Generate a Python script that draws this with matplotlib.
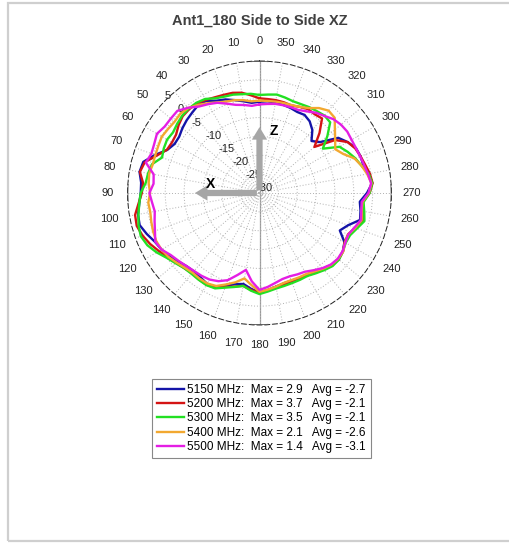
import numpy as np
import matplotlib
matplotlib.use("Agg")
import matplotlib.pyplot as plt
from matplotlib.patches import Rectangle

plt.rcParams['font.family'] = ['Liberation Sans', 'DejaVu Sans']

# pattern angles (deg), 5 deg steps
angles = np.arange(0, 360, 5)

freqs = ["5150 MHz", "5200 MHz", "5300 MHz", "5400 MHz", "5500 MHz"]
max_vals = [2.9, 3.7, 3.5, 2.1, 1.4]
avg_vals = [-2.7, -2.1, -2.1, -2.6, -3.1]
colors = ["#1414a8", "#d41414", "#22e022", "#f2a830", "#e41ee4"]

gain_5150 = [-5.8, -6.0, -5.3, -4.5, -3.6, -3.0, -1.8, -1.6, -2.2, -2.7, -3.3, -4.0,
             -4.0, -3.0, -0.5, 1.9, 2.3, 1.5, 1.5, 2.0, 2.7, 2.9, 1.8, 0.6,
             0.0, -0.8, -1.8, -2.6, -2.9, -2.7, -2.2, -2.5, -3.8, -5.0, -5.5, -4.5,
             -3.6, -4.2, -4.8, -5.2, -5.3, -5.0, -4.8, -4.4, -3.8, -3.0, -2.6, -3.0,
             -4.0, -6.5, -5.0, -2.4, -2.8, -3.3, -1.5, 0.0, -0.5, -1.5, -1.5, -1.8,
             -3.0, -4.5, -9.0, -10.5, -8.2, -6.8, -6.1, -6.3, -6.0, -5.8, -5.6, -5.6]
gain_5200 = [-4.9, -4.0, -3.0, -2.5, -2.3, -2.0, -1.5, -1.0, -1.0, -1.2, -2.0, -3.0,
             -3.2, -2.9, -1.0, 1.5, 2.2, 1.0, 1.2, 2.2, 3.5, 3.7, 3.0, 2.0,
             0.8, -0.3, -1.2, -1.8, -2.2, -2.0, -1.9, -2.3, -3.5, -4.3, -5.0, -4.2,
             -3.5, -4.0, -4.5, -4.9, -5.0, -4.9, -4.8, -4.2, -3.5, -2.8, -2.6, -3.0,
             -3.9, -4.1, -3.0, -1.5, -2.0, -2.5, -0.8, 0.1, -0.3, -1.0, -1.5, -2.0,
             -3.0, -5.5, -11.0, -7.5, -4.2, -4.5, -4.3, -4.8, -5.3, -5.1, -5.0, -5.0]
gain_5300 = [-4.0, -3.6, -3.4, -3.0, -2.8, -2.3, -1.2, -0.8, -0.8, -1.0, -1.5, -2.0,
             -1.7, -2.0, -2.5, -0.5, 0.0, 0.3, 1.5, 2.0, 2.6, 3.2, 3.5, 2.8,
             1.5, 0.0, -1.0, -1.8, -2.0, -1.9, -1.8, -2.1, -3.3, -4.2, -5.0, -4.0,
             -3.2, -3.8, -4.3, -4.5, -4.6, -4.6, -4.6, -4.0, -3.3, -2.6, -2.5, -3.0,
             -3.6, -3.5, -2.5, -1.2, -1.8, -2.3, -0.8, 0.0, -0.6, -2.0, -3.0, -4.2,
             -5.5, -9.5, -6.5, -3.5, -3.2, -3.5, -3.7, -4.0, -4.1, -3.8, -3.5, -3.8]
gain_5400 = [-5.5, -5.6, -5.0, -4.5, -4.2, -3.5, -2.5, -1.5, -0.6, -0.3, -0.6, -0.4,
             -0.1, -0.4, -0.6, -0.7, -0.3, -0.5, -1.0, -0.4, -0.6, -0.3, 0.0, 0.2,
             0.0, -0.5, -1.3, -2.0, -2.4, -2.3, -2.3, -2.8, -4.2, -5.5, -7.0, -5.5,
             -3.8, -4.3, -4.8, -5.3, -5.4, -5.3, -5.2, -4.6, -3.8, -3.1, -2.8, -2.9,
             -3.8, -4.0, -3.0, -2.0, -2.5, -2.6, -1.0, -0.2, -1.0, -2.0, -3.2, -5.5,
             -6.8, -5.5, -3.9, -1.8, -1.5, -2.5, -4.0, -4.8, -5.2, -5.3, -5.4, -5.5]
gain_5500 = [-6.5, -6.8, -6.3, -5.8, -4.8, -3.6, -2.8, -2.0, -0.5, 0.8, 0.7, 0.7,
             1.4, 0.8, 0.5, 1.2, -1.5, -1.8, -0.8, -1.4, -1.8, -1.2, -0.5, 0.5,
             0.0, -1.3, -2.0, -2.6, -3.0, -3.2, -3.5, -4.2, -5.4, -7.5, -9.3, -6.5,
             -4.3, -5.0, -5.8, -6.4, -6.5, -6.2, -5.9, -5.0, -4.0, -3.2, -2.9, -3.1,
             -3.7, -4.0, -3.2, -2.2, -2.6, -2.8, -1.1, -0.3, -0.8, -1.3, -1.6, -1.8,
             -1.8, -1.6, -1.8, -2.3, -3.3, -4.0, -5.0, -5.7, -5.8, -5.9, -6.0, -6.3]
series = [gain_5150, gain_5200, gain_5300, gain_5400, gain_5500]

r_ticks = [-25, -20, -15, -10, -5, 0, 5]
r_min, r_max = -30, 5

W, H = 510, 543
fig = plt.figure(figsize=(W / 100, H / 100), dpi=100)

# outer light frame (right side runs off the image)
fig.patches.append(Rectangle((8 / W, 2 / H), 1.2, 1 - 5 / H, transform=fig.transFigure,
                             fill=False, edgecolor="#cfcfcf", lw=1.6))

cx, cy, R = 259.5, 193, 132
ax = fig.add_axes([(cx - R) / W, 1 - (cy + R) / H, 2 * R / W, 2 * R / H], projection="polar")
ax.set_theta_zero_location("N")
ax.set_theta_direction(1)
ax.set_rlim(r_min, r_max)

ax.set_thetagrids(np.arange(0, 360, 10), [str(a) for a in range(0, 360, 10)],
                  fontsize=8, color="#222222")
ax.tick_params(axis="x", pad=4)
ax.set_rgrids(r_ticks, [str(v) for v in r_ticks], angle=46, fontsize=8, color="#222222")
ax.grid(True, color="#b0b0b0", linestyle=(0, (1, 2)), lw=0.7)
ax.spines["polar"].set_linestyle((0, (5, 3)))
ax.spines["polar"].set_linewidth(0.7)
ax.spines["polar"].set_color("#222222")

# solid 0-180 axis line and small ticks on the rim
ax.plot([0, 0], [r_min, r_max], color="#9a9a9a", lw=0.9, zorder=1)
ax.plot([np.pi, np.pi], [r_min, r_max], color="#9a9a9a", lw=0.9, zorder=1)
for a in [0, 90, 180, 270]:
    t = np.radians(np.linspace(a - 3.5, a + 3.5, 8))
    ax.plot(t, [r_max] * len(t), color="#555555", lw=1.2, zorder=3)

# centre label, its minus sign sits under the Z arrow
ax.text(0.487, 0.52, "-30", transform=ax.transAxes, fontsize=8,
        color="#222222", ha="left", va="center", zorder=2)

lines = []
for vals, col in zip(series, colors):
    th = np.radians(list(angles) + [angles[0]])
    rr = list(vals) + [vals[0]]
    ln, = ax.plot(th, rr, color=col, lw=1.7, zorder=4)
    lines.append(ln)

# X / Z axis arrows
arrow_kw = dict(arrowstyle="simple,head_width=1.1,head_length=0.9,tail_width=0.45",
                color="#a6a6a6", lw=0)
ax.annotate("", xy=(0.245, 0.5), xytext=(0.5, 0.5), xycoords="axes fraction",
            textcoords="axes fraction", arrowprops=arrow_kw, zorder=5)
ax.annotate("", xy=(0.5, 0.76), xytext=(0.5, 0.5), xycoords="axes fraction",
            textcoords="axes fraction", arrowprops=arrow_kw, zorder=5)
ax.text(0.316, 0.535, "X", transform=ax.transAxes, fontsize=10, fontweight="bold",
        ha="center", va="center", zorder=6)
ax.text(0.555, 0.735, "Z", transform=ax.transAxes, fontsize=10, fontweight="bold",
        ha="center", va="center", zorder=6)

fig.text(cx / W, 1 - 21 / H, "Ant1_180 Side to Side XZ", ha="center", va="center",
         fontsize=10.5, fontweight="bold", color="#404040")

labels = [f"{f}:  Max = {m:.1f}   Avg = {a:.1f}" for f, m, a in zip(freqs, max_vals, avg_vals)]
leg = fig.legend(lines, labels, loc="upper left", bbox_to_anchor=(152 / W, 1 - 379 / H),
                 borderaxespad=0, fontsize=8.5, handlelength=2.3, handletextpad=0.3,
                 labelspacing=0.2, borderpad=0.4, fancybox=False, framealpha=1)
leg.get_frame().set_edgecolor("#888888")
leg.get_frame().set_linewidth(0.8)

fig.savefig("out.png", dpi=100)
